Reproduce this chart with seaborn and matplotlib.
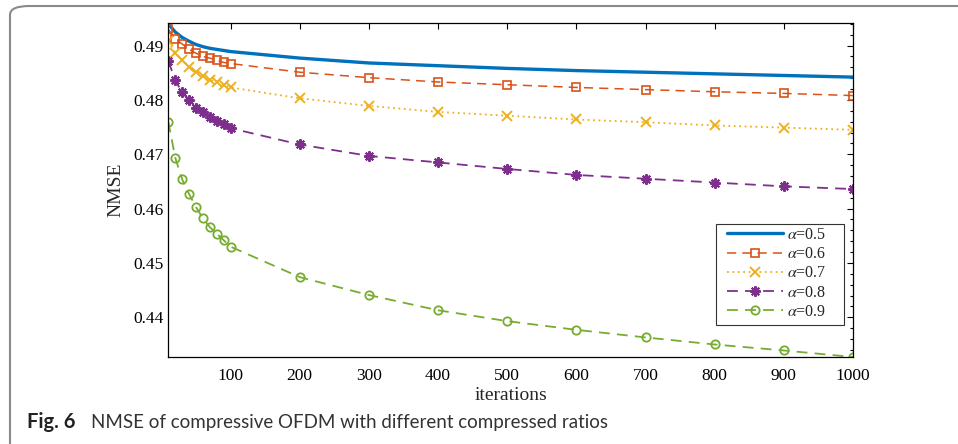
import numpy as np
import pandas as pd
import matplotlib
matplotlib.use("Agg")
import matplotlib.pyplot as plt
from matplotlib.patches import FancyBboxPatch, Rectangle
from matplotlib.ticker import MultipleLocator
import seaborn as sns

iterations = [10, 20, 30, 40, 50, 60, 70, 80, 90, 100,
              200, 300, 400, 500, 600, 700, 800, 900, 1000]
nmse_05 = [0.4940, 0.4925, 0.4915, 0.4908, 0.4902, 0.4898, 0.4895, 0.4893, 0.4891, 0.4889,
           0.4877, 0.4868, 0.4863, 0.4858, 0.4854, 0.4851, 0.4848, 0.4845, 0.4842]
nmse_06 = [0.4930, 0.4912, 0.4903, 0.4893, 0.4886, 0.4880, 0.4877, 0.4873, 0.4869, 0.4867,
           0.4851, 0.4841, 0.4833, 0.4828, 0.4823, 0.4819, 0.4815, 0.4812, 0.4808]
nmse_07 = [0.4908, 0.4886, 0.4874, 0.4861, 0.4852, 0.4844, 0.4837, 0.4833, 0.4828, 0.4823,
           0.4803, 0.4789, 0.4778, 0.4771, 0.4764, 0.4759, 0.4753, 0.4749, 0.4745]
nmse_08 = [0.4872, 0.4836, 0.4814, 0.4800, 0.4786, 0.4778, 0.4768, 0.4761, 0.4755, 0.4748,
           0.4718, 0.4697, 0.4685, 0.4673, 0.4662, 0.4655, 0.4648, 0.4641, 0.4636]
nmse_09 = [0.4760, 0.4694, 0.4654, 0.4627, 0.4603, 0.4582, 0.4566, 0.4554, 0.4542, 0.4530,
           0.4474, 0.4441, 0.4413, 0.4393, 0.4377, 0.4363, 0.4350, 0.4339, 0.4327]
labels = [r"$\alpha$=0.5", r"$\alpha$=0.6", r"$\alpha$=0.7", r"$\alpha$=0.8", r"$\alpha$=0.9"]
xticks = [100, 200, 300, 400, 500, 600, 700, 800, 900, 1000]
yticks = [0.44, 0.45, 0.46, 0.47, 0.48, 0.49]

sns.set_style("white")
plt.rcParams["font.family"] = ["Liberation Serif", "DejaVu Serif"]
plt.rcParams["mathtext.fontset"] = "stix"

fig = plt.figure(figsize=(9.58, 4.44), dpi=100)
ax = fig.add_axes([168.3 / 958, 1 - 357 / 444, (853 - 168.3) / 958, (357 - 23.3) / 444])

series = [nmse_05, nmse_06, nmse_07, nmse_08, nmse_09]
styles = [
    dict(color="#0072BD", linestyle="-", linewidth=2.4, marker=None),
    dict(color="#D95319", linestyle=(0, (6, 4)), linewidth=1.1, marker="s",
         markersize=6, markerfacecolor="none", markeredgewidth=1.2, markeredgecolor="#D95319"),
    dict(color="#EDB120", linestyle=(0, (1, 2)), linewidth=1.3, marker="x",
         markersize=7, markeredgewidth=1.4, markeredgecolor="#EDB120"),
    dict(color="#7E2F8E", linestyle=(0, (6, 4)), linewidth=1.3, marker=(8, 2, 0),
         markersize=7.5, markeredgewidth=1.5, markeredgecolor="#7E2F8E"),
    dict(color="#77AC30", linestyle=(0, (6, 4)), linewidth=1.3, marker="o",
         markersize=6, markerfacecolor="none", markeredgewidth=1.3, markeredgecolor="#77AC30"),
]
for vals, lab, st in zip(series, labels, styles):
    df = pd.DataFrame({"iterations": iterations, "NMSE": vals})
    sns.lineplot(data=df, x="iterations", y="NMSE", ax=ax, label=lab, **st)

ax.set_xlim(10, 1000)
ax.set_ylim(0.4327, 0.4941)
ax.set_xticks(xticks)
ax.set_xticklabels([str(t) for t in xticks])
ax.set_yticks(yticks)
ax.set_yticklabels([f"{t:.2f}" for t in yticks])
ax.yaxis.set_minor_locator(MultipleLocator(0.002))
ax.tick_params(axis="both", which="both", direction="in", top=True, right=True,
               labelsize=12.5, colors="black")
ax.tick_params(which="major", length=4.5, width=0.8)
ax.tick_params(which="minor", length=2.5, width=0.8)
ax.tick_params(axis="x", pad=8)
for s in ax.spines.values():
    s.set_color("black")
    s.set_linewidth(0.9)
ax.set_xlabel("iterations", fontsize=14, labelpad=2)
ax.set_ylabel("NMSE", fontsize=14, labelpad=6)

leg = ax.legend(loc="upper left", bbox_to_anchor=(727 / 958, 1 - 227 / 444),
                bbox_transform=fig.transFigure, fontsize=11.5, frameon=False,
                handlelength=3.5, handletextpad=0.25, labelspacing=0.2,
                borderpad=0, borderaxespad=0)
fig.add_artist(Rectangle((716 / 958, 1 - 325 / 444), (844 - 716) / 958, (325 - 224) / 444,
                         transform=fig.transFigure, fill=True, facecolor="white",
                         edgecolor="#333333", linewidth=0.8, zorder=2))
leg.set_zorder(3)
fig.add_artist(leg)

# frame around figure
border = FancyBboxPatch((10 / 958, -20 / 444), 1.2, (444 - 6 + 20) / 444,
                        boxstyle="round,pad=0,rounding_size=0.02",
                        transform=fig.transFigure, fill=False,
                        edgecolor="#8a8a8a", linewidth=1.5, clip_on=False)
fig.add_artist(border)

fig.text(27 / 958, 1 - 428 / 444, "Fig. 6", fontsize=14.5, fontweight="bold",
         family=["Lato", "DejaVu Sans"], color="#222222", va="baseline")
fig.text(91 / 958, 1 - 428 / 444, "NMSE of compressive OFDM with different compressed ratios",
         fontsize=13.5, family=["Lato", "DejaVu Sans"], color="#333333", va="baseline")

fig.savefig("out.png", dpi=100)
